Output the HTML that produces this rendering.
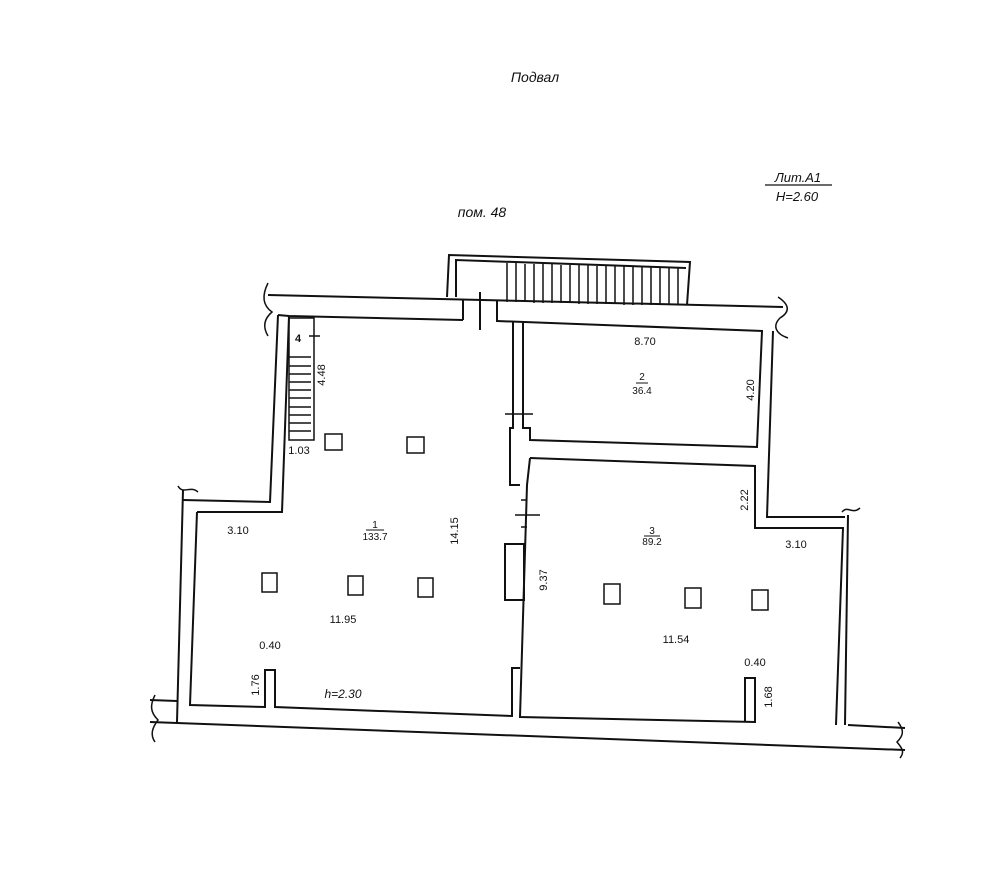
<!DOCTYPE html>
<html><head><meta charset="utf-8"><style>
html,body{margin:0;padding:0;background:#fff;}
svg{display:block;}
text{font-family:"Liberation Sans",sans-serif;fill:#111;}
</style></head><body>
<svg width="1000" height="883" viewBox="0 0 1000 883" xmlns="http://www.w3.org/2000/svg">
<g fill="none" stroke="#111" stroke-width="2">
<polyline points="447,297 449,255 690,262 687,305"/>
<polyline points="456,297 456,260 686,268"/>
<g stroke-width="1.5">
<line x1="507" y1="263" x2="507" y2="302"/><line x1="516" y1="263" x2="516" y2="302"/><line x1="525" y1="264" x2="525" y2="302"/><line x1="534" y1="264" x2="534" y2="303"/><line x1="543" y1="264" x2="543" y2="303"/><line x1="552" y1="264" x2="552" y2="303"/><line x1="561" y1="265" x2="561" y2="303"/><line x1="570" y1="265" x2="570" y2="303"/><line x1="579" y1="265" x2="579" y2="304"/><line x1="588" y1="265" x2="588" y2="304"/><line x1="597" y1="266" x2="597" y2="304"/><line x1="606" y1="266" x2="606" y2="304"/><line x1="615" y1="266" x2="615" y2="304"/><line x1="624" y1="266" x2="624" y2="305"/><line x1="633" y1="267" x2="633" y2="305"/><line x1="642" y1="267" x2="642" y2="305"/><line x1="651" y1="267" x2="651" y2="305"/><line x1="660" y1="267" x2="660" y2="305"/><line x1="669" y1="268" x2="669" y2="305"/><line x1="678" y1="268" x2="678" y2="305"/>
</g>
<line x1="268" y1="295" x2="783" y2="307"/>
<polyline points="278,315 289,316 463,320"/>
<line x1="497" y1="321" x2="763" y2="331"/>
<line x1="463" y1="300" x2="463" y2="320"/><line x1="497" y1="301" x2="497" y2="322"/>
<line x1="480" y1="292" x2="480" y2="330"/>
<polyline points="278,315 270,502 183,500"/>
<polyline points="289,316 282,512 197,512"/>
<polyline points="183,490 177,722"/>
<line x1="150" y1="700" x2="177" y2="701"/>
<polyline points="197,512 190,705 265,707 265,670 275,670 275,707 512,716 512,668 520,668"/>
<line x1="150" y1="722" x2="905" y2="750"/>
<line x1="848" y1="725" x2="905" y2="728"/>
<polyline points="513,322 513,428 510,428 510,485 520,485"/>
<polyline points="523,322 523,428 530,428 530,440 757,447 762,331"/>
<polyline points="530,458 755,466 755,528 843,528 836,725"/>
<polyline points="530,458 527,485 520,717 755,722 755,678 745,678 745,722"/>
<rect x="505" y="544" width="19" height="56"/>
<polyline points="773,331 767,517 845,517"/>
<line x1="848" y1="515" x2="845" y2="725"/>
<rect x="289" y="318" width="25" height="122" stroke-width="1.5"/>
<g stroke-width="1.5">
<line x1="289" y1="357" x2="311" y2="357"/><line x1="289" y1="366" x2="311" y2="366"/><line x1="289" y1="374" x2="311" y2="374"/><line x1="289" y1="382" x2="311" y2="382"/><line x1="289" y1="390" x2="311" y2="390"/><line x1="289" y1="398" x2="311" y2="398"/><line x1="289" y1="407" x2="311" y2="407"/><line x1="289" y1="415" x2="311" y2="415"/><line x1="289" y1="423" x2="311" y2="423"/><line x1="289" y1="431" x2="311" y2="431"/>
<line x1="309" y1="336" x2="320" y2="336"/>
<line x1="505" y1="414" x2="533" y2="414"/>
<line x1="515" y1="515" x2="540" y2="515"/>
<line x1="521" y1="500" x2="527" y2="500"/><line x1="521" y1="527" x2="527" y2="527"/>
</g>
<g stroke-width="1.5">
<rect x="325" y="434" width="17" height="16"/><rect x="407" y="437" width="17" height="16"/>
<rect x="262" y="573" width="15" height="19"/><rect x="348" y="576" width="15" height="19"/><rect x="418" y="578" width="15" height="19"/>
<rect x="604" y="584" width="16" height="20"/><rect x="685" y="588" width="16" height="20"/><rect x="752" y="590" width="16" height="20"/>
</g>
<g stroke-width="1.5">
<path d="M268,283 C262,295 262,305 272,312 C265,318 262,326 268,336"/>
<path d="M778,297 C790,305 790,312 780,318 C772,326 776,334 788,338"/>
<path d="M178,486 C183,495 190,485 198,492"/>
<path d="M842,512 C848,505 852,515 860,508"/>
<path d="M155,695 C150,705 150,712 158,720 C152,728 150,735 155,742"/>
<path d="M898,722 C904,730 904,735 897,742 C902,748 905,752 900,758"/>
</g>
<line x1="765" y1="185" x2="832" y2="185" stroke-width="1.2"/>
</g>
<g font-size="11">
<text x="535" y="82" font-size="14" font-style="italic" text-anchor="middle">Подвал</text>
<text x="482" y="217" font-size="14" font-style="italic" text-anchor="middle">пом.  48</text>
<text x="798" y="182" font-size="13" font-style="italic" text-anchor="middle">Лит.А1</text>
<text x="797" y="201" font-size="13" font-style="italic" text-anchor="middle">H=2.60</text>
<text x="298" y="342" font-size="11" font-weight="bold" text-anchor="middle">4</text>
<text x="325" y="375" transform="rotate(-90 325 375)" text-anchor="middle">4.48</text>
<text x="299" y="454" text-anchor="middle">1.03</text>
<text x="645" y="345" text-anchor="middle">8.70</text>
<text x="642" y="380" font-size="10" text-anchor="middle">2</text>
<text x="642" y="394" font-size="10" text-anchor="middle">36.4</text>
<line x1="636" y1="383" x2="648" y2="383" stroke="#111"/>
<text x="754" y="390" transform="rotate(-90 754 390)" text-anchor="middle">4.20</text>
<text x="748" y="500" transform="rotate(-90 748 500)" text-anchor="middle">2.22</text>
<text x="238" y="534" text-anchor="middle">3.10</text>
<text x="375" y="528" font-size="10" text-anchor="middle">1</text>
<text x="375" y="540" font-size="10" text-anchor="middle">133.7</text>
<line x1="366" y1="530" x2="384" y2="530" stroke="#111"/>
<text x="458" y="531" transform="rotate(-90 458 531)" text-anchor="middle">14.15</text>
<text x="652" y="534" font-size="10" text-anchor="middle">3</text>
<text x="652" y="545" font-size="10" text-anchor="middle">89.2</text>
<line x1="644" y1="536" x2="660" y2="536" stroke="#111"/>
<text x="796" y="548" text-anchor="middle">3.10</text>
<text x="547" y="580" transform="rotate(-90 547 580)" text-anchor="middle">9.37</text>
<text x="343" y="623" text-anchor="middle">11.95</text>
<text x="676" y="643" text-anchor="middle">11.54</text>
<text x="270" y="649" text-anchor="middle">0.40</text>
<text x="755" y="666" text-anchor="middle">0.40</text>
<text x="259" y="685" transform="rotate(-90 259 685)" text-anchor="middle">1.76</text>
<text x="772" y="697" transform="rotate(-90 772 697)" text-anchor="middle">1.68</text>
<text x="343" y="698" font-size="12" font-style="italic" text-anchor="middle">h=2.30</text>
</g>
</svg>
</body></html>
